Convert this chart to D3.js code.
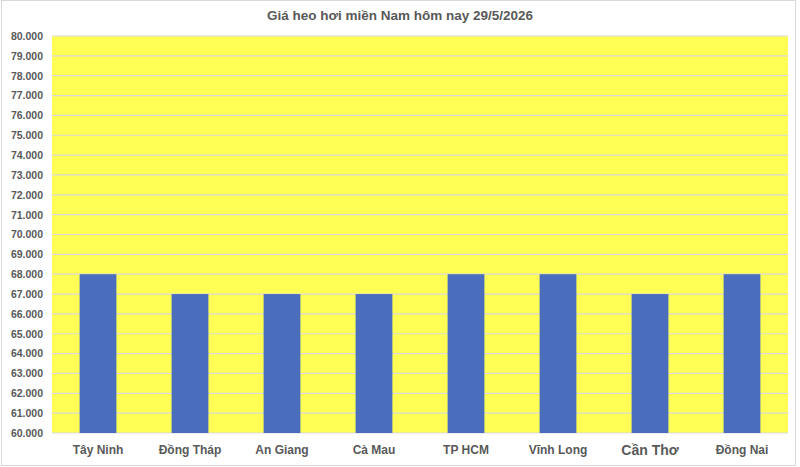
<!DOCTYPE html>
<html>
<head>
<meta charset="utf-8">
<script src="https://cdn.jsdelivr.net/npm/d3@7"></script>
<style>
  body { margin: 0; background: #fff; }
  svg { display: block; font-family: "Liberation Sans", "DejaVu Sans", sans-serif; }
</style>
</head>
<body>
<svg id="chart" width="800" height="467"></svg>
<script>
// du lieu bieu do
var chartTitle = "Giá heo hơi miền Nam hôm nay 29/5/2026";
var provinces = ["Tây Ninh", "Đồng Tháp", "An Giang", "Cà Mau", "TP HCM", "Vĩnh Long", "Cần Thơ", "Đồng Nai"];
var prices = [68000, 67000, 67000, 67000, 68000, 68000, 67000, 68000];
var yTicks = d3.range(60000, 80001, 1000);

var svg = d3.select("#chart");
var W = 800, H = 467;
var m = {top: 36, right: 12, bottom: 34, left: 52};

// khung ngoai
svg.append("rect")
  .attr("x", 1.5).attr("y", 0.5)
  .attr("width", 794).attr("height", 465)
  .attr("fill", "#fff").attr("stroke", "#d9d9d9");

var x = d3.scaleBand()
  .domain(provinces)
  .range([m.left, W - m.right])
  .paddingInner(0.6).paddingOuter(0.3);

var y = d3.scaleLinear()
  .domain([60000, 80000])
  .range([H - m.bottom, m.top]);

// nen vang
svg.append("rect")
  .attr("x", m.left).attr("y", m.top)
  .attr("width", W - m.right - m.left)
  .attr("height", H - m.bottom - m.top)
  .attr("fill", "#ffff55");

// luoi ngang
svg.append("g")
  .selectAll("line")
  .data(yTicks)
  .enter().append("line")
  .attr("x1", m.left).attr("x2", W - m.right)
  .attr("y1", function(d){ return y(d); })
  .attr("y2", function(d){ return y(d); })
  .attr("stroke", "#d9d9d9").attr("stroke-width", 1.2);

// cot
svg.append("g")
  .selectAll("rect")
  .data(prices)
  .enter().append("rect")
  .attr("x", function(d, i){ return x(provinces[i]); })
  .attr("y", function(d){ return y(d); })
  .attr("width", x.bandwidth())
  .attr("height", function(d){ return y(60000) - y(d); })
  .attr("fill", "#4a6ebd");

// truc y
var fmt = function(d){ return d3.format(",")(d).replace(/,/g, "."); };
var yAxis = svg.append("g")
  .attr("transform", "translate(" + (m.left - 6) + ",0)")
  .call(d3.axisLeft(y).tickValues(yTicks).tickSize(0).tickFormat(fmt));
yAxis.select(".domain").remove();
yAxis.selectAll("text")
  .attr("fill", "#595959")
  .style("font-size", "10.5px").style("font-weight", "bold");

// truc x
var xAxis = svg.append("g")
  .attr("transform", "translate(0," + (H - m.bottom) + ")")
  .call(d3.axisBottom(x).tickSize(0).tickPadding(12));
xAxis.select(".domain").remove();
xAxis.selectAll("text")
  .attr("fill", "#595959")
  .style("font-size", function(d){ return d == "Cần Thơ" ? "14px" : "12px"; })
  .style("font-weight", "bold");

// tieu de
svg.append("text")
  .attr("x", 400).attr("y", 20)
  .attr("text-anchor", "middle")
  .attr("fill", "#595959")
  .style("font-size", "13.5px").style("font-weight", "bold")
  .text(chartTitle);
</script>
</body>
</html>
